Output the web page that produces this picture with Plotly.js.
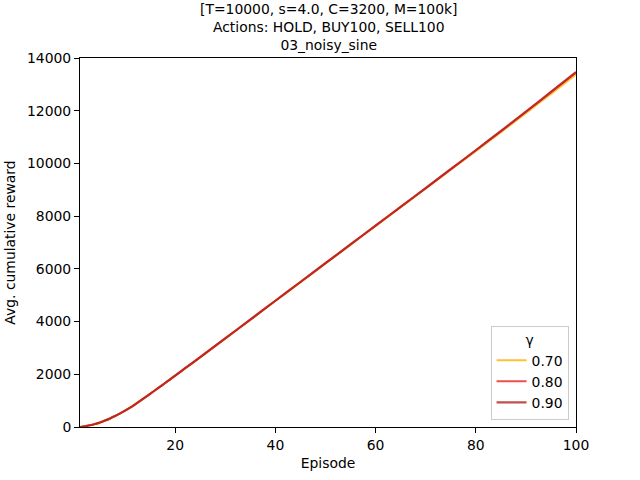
<!DOCTYPE html>
<html>
<head>
<meta charset="utf-8">
<script src="https://cdn.plot.ly/plotly-3.0.1.min.js"></script>
<style>html,body{margin:0;padding:0;background:#fff}#chart{width:640px;height:480px}</style>
</head>
<body>
<div id="chart"></div>
<script>
var episodes = [1, 2, 3, 4, 5, 6, 7, 8, 9, 10, 11, 12, 13, 14, 15, 16, 17, 18, 19, 20, 22, 25, 30, 35, 40, 45, 50, 55, 60, 65, 70, 75, 80, 85, 90, 95, 100];
// Avg. cumulative reward per gamma
var reward_g070 = [0, 25, 65, 115, 175, 245, 325, 415, 515, 620, 735, 860, 990, 1125, 1260, 1395, 1532, 1670, 1810, 1950, 2230, 2650, 3360, 4075, 4790, 5500, 6210, 6920, 7630, 8340, 9050, 9760, 10470, 11185, 11910, 12640, 13380];
var reward_g080 = [0, 25, 65, 115, 175, 245, 325, 415, 515, 620, 735, 860, 990, 1125, 1260, 1395, 1532, 1670, 1810, 1950, 2230, 2650, 3360, 4075, 4790, 5502, 6215, 6928, 7640, 8352, 9065, 9782, 10500, 11225, 11960, 12705, 13455];
var reward_g090 = [0, 25, 65, 115, 175, 245, 325, 415, 515, 620, 735, 860, 990, 1125, 1260, 1395, 1532, 1670, 1810, 1950, 2230, 2650, 3360, 4075, 4790, 5502, 6215, 6928, 7640, 8352, 9065, 9782, 10500, 11228, 11965, 12712, 13465];
var gammaLabels = ['0.70', '0.80', '0.90'];
var colors = ['#ffb000', '#ee2020', '#b22222'];
var xTicks = [20, 40, 60, 80, 100];
var yTicks = [0, 2000, 4000, 6000, 8000, 10000, 12000, 14000];
var titleText = '[T=10000, s=4.0, C=3200, M=100k]<br>Actions: HOLD, BUY100, SELL100<br>03_noisy_sine';

var series = [reward_g070, reward_g080, reward_g090];
var traces = series.map(function (ys, i) {
  return {
    x: episodes, y: ys, type: 'scatter', mode: 'lines', name: gammaLabels[i],
    line: {color: colors[i], width: 2.1, shape: 'spline', smoothing: 0.5},
    opacity: 0.8
  };
});

var font = {family: 'DejaVu Sans, sans-serif', size: 13.9, color: '#000'};
var layout = {
  width: 640, height: 480,
  margin: {l: 80, r: 64, t: 57.6, b: 52.8, pad: 0},
  paper_bgcolor: '#fff', plot_bgcolor: '#fff',
  font: font,
  showlegend: true,
  annotations: [{
    text: titleText, xref: 'paper', yref: 'paper', x: 0.5, y: 1,
    xanchor: 'center', yanchor: 'bottom', yshift: 3, showarrow: false,
    align: 'center', font: font
  }],
  xaxis: {
    range: [1, 100], tickvals: xTicks, ticktext: xTicks.map(String),
    showgrid: false, zeroline: false, showline: true, linecolor: '#000', linewidth: 1,
    mirror: true, ticks: 'outside', ticklen: 5, tickcolor: '#000', tickwidth: 1,
    tickfont: font,
    title: {text: 'Episode', font: font, standoff: 6}
  },
  yaxis: {
    range: [0, 14000], tickvals: yTicks, ticktext: yTicks.map(String),
    showgrid: false, zeroline: false, showline: true, linecolor: '#000', linewidth: 1,
    mirror: true, ticks: 'outside', ticklen: 5, tickcolor: '#000', tickwidth: 1,
    tickfont: font,
    title: {text: 'Avg. cumulative reward', font: font, standoff: 8}
  },
  legend: {
    x: 0.985, y: 0.02, xanchor: 'right', yanchor: 'bottom',
    bgcolor: 'rgba(255,255,255,0.8)', bordercolor: '#cccccc', borderwidth: 1,
    font: font,
    title: {text: 'γ', side: 'top center', font: font},
    tracegroupgap: 0, itemwidth: 30
  }
};

Plotly.newPlot('chart', traces, layout, {displayModeBar: false, staticPlot: true});
</script>
</body>
</html>
